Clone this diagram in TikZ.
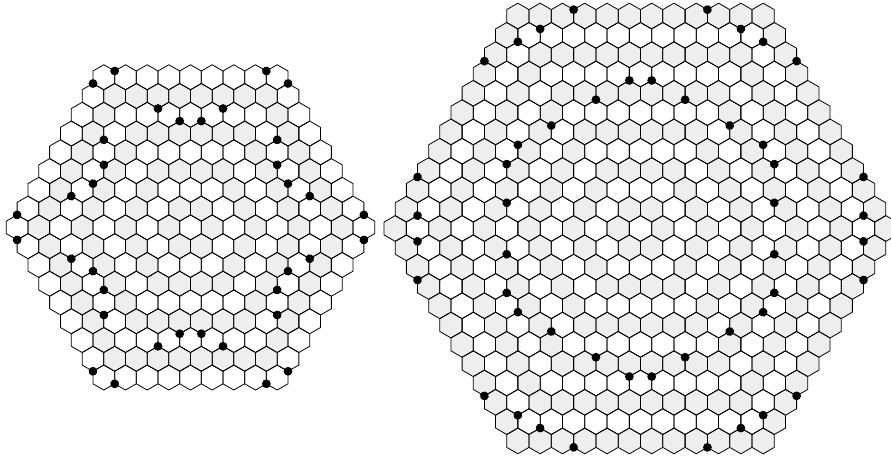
\documentclass[tikz,border=0pt]{standalone}
\definecolor{cellgray}{gray}{0.935}
\tikzset{
  hexc/.pic={\path[pic actions] (90:\hR) -- (30:\hR) -- (-30:\hR) -- (-90:\hR) -- (-150:\hR) -- (150:\hR) -- cycle;},
  grayfill/.style={fill=cellgray},
  outline/.style={draw=black, line width=0.8pt, line join=round},
  vdot/.style={fill=black}
}
% #1 cx, #2 cy, #3 hex width, #4 N (side-1), #5 gray cells of one 30-degree wedge (m/j), #6 dots of one 60-degree sector (a/b)
\newcommand\myboard[6]{%
  \pgfmathsetmacro\hW{#3}%
  \pgfmathsetmacro\hR{#3/sqrt(3)}%
  \foreach \t in {0,60,...,300}{%
    \foreach \s in {1,-1}{%
      \begin{scope}[shift={(#1,#2)},rotate=\t,xscale=\s]
        \foreach \m/\j in {#5}{\pic[grayfill] at ({\j*\hW/2},{1.5*\m*\hR}) {hexc};}
      \end{scope}
    }%
  }%
  \foreach \m in {-#4,...,#4}{%
    \pgfmathtruncatemacro\jmax{2*#4-abs(\m)}%
    \pgfmathtruncatemacro\jmin{-\jmax}%
    \pgfmathtruncatemacro\jnx{-\jmax+2}%
    \foreach \j in {\jmin,\jnx,...,\jmax}{\pic[outline] at ({#1+\j*\hW/2},{#2+1.5*\m*\hR}) {hexc};}
  }%
  \foreach \t in {0,60,...,300}{%
    \begin{scope}[shift={(#1,#2)},rotate=\t]
      \foreach \a/\b in {#6}{\fill[vdot] ({\a*\hW},{\b*\hR}) circle (4.4);}
    \end{scope}
  }%
}
\begin{document}
\begin{tikzpicture}[x=1pt,y=-1pt]
\path[use as bounding box] (0,0) rectangle (891,457);
\clip (0,0) rectangle (891,457);
\myboard{190.5}{227.4}{21.67}{8}%
  {-7/-7,-7/-5,-7/-3,-7/-1,-5/-5,-5/-3,-5/-1,-3/-3,-3/-1,-1/-1}%
  {-4.5/-11.5,-3.5/-12.5,-1.5/-9.5,-0.5/-8.5,0.5/-8.5,1.5/-9.5}
\myboard{640.5}{228.5}{22.3}{11}%
  {-11/-11,-11/-9,-11/-7,-11/-5,-11/-3,-11/-1,-9/-9,-9/-7,-9/-5,-9/-3,-9/-1,-7/-7,-7/-5,-7/-3,-7/-1,-5/-5,-5/-3,-5/-1,-3/-3,-3/-1,-1/-1}%
  {-3/-17,-4.5/-15.5,-5.5/-14.5,-7/-13,-0.5/-11.5,0.5/-11.5,-2/-10,2/-10}
\end{tikzpicture}
\end{document}
